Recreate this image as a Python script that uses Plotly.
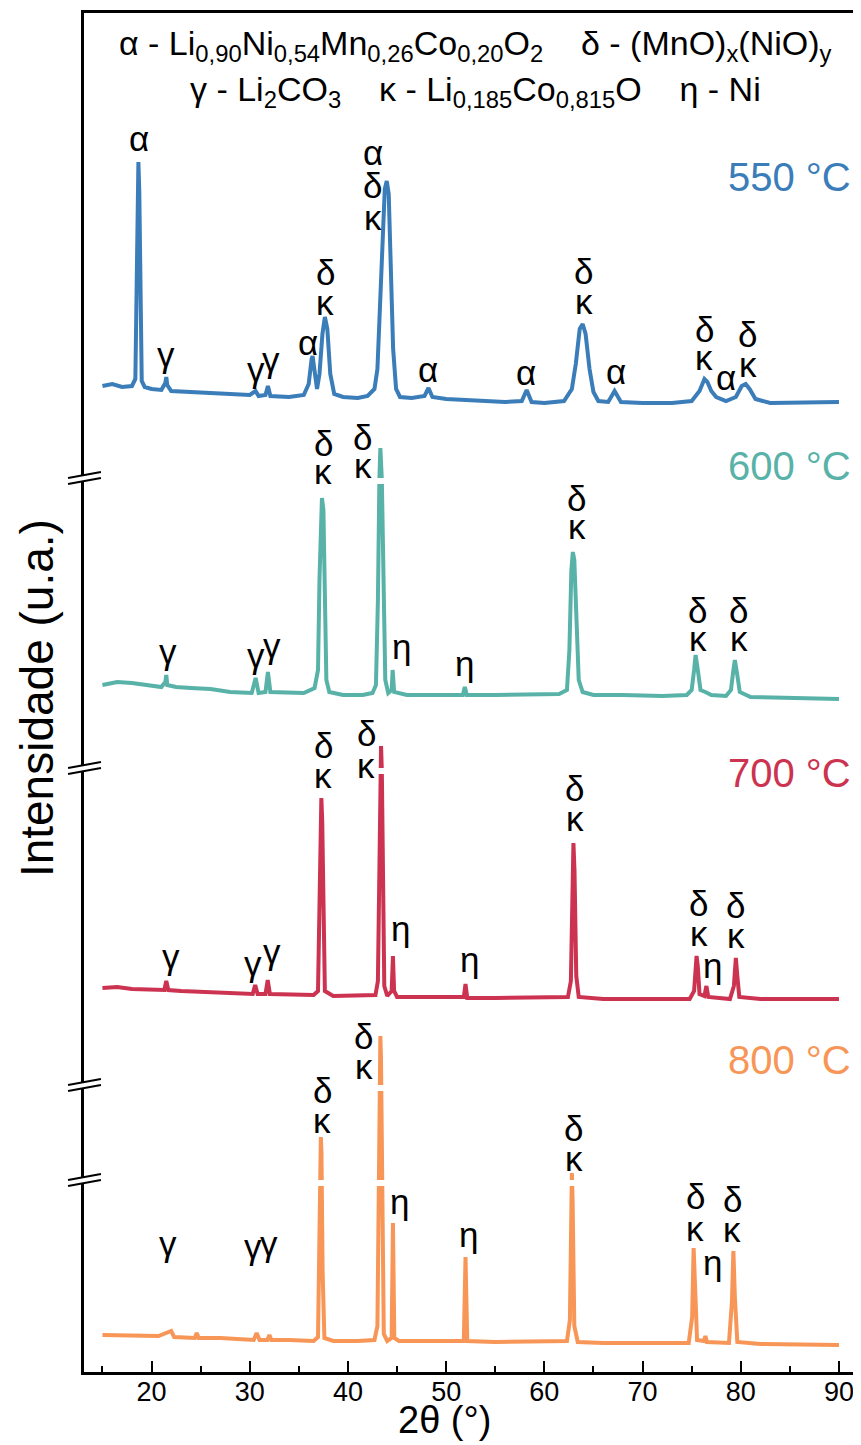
import plotly.graph_objects as go

# ---------------- data (2θ in degrees, intensity in arbitrary stacked units) ----------------
two_theta_550 = [15.0, 16.0, 17.0, 18.0, 18.35, 18.5, 18.6, 18.66, 18.75, 18.85, 19.0, 19.3, 20.0, 21.0, 21.4, 21.5, 21.6, 22.0,
                 24.0, 26.0, 28.0, 30.0, 30.6, 30.9, 31.6, 31.85, 32.1, 34.0, 35.5, 36.0, 36.3, 36.4, 36.6, 36.85, 37.1,
                 37.4, 37.65, 37.9, 38.2, 38.6, 39.5, 41.0, 42.0, 42.7, 43.0, 43.3, 43.5, 43.75, 43.95, 44.15, 44.35,
                 44.6, 44.9, 45.3, 46.5, 47.8, 48.2, 48.6, 50.0, 52.0, 54.0, 56.0, 57.7, 58.2, 58.7, 60.0, 62.0, 62.8,
                 63.2, 63.6, 63.9, 64.2, 64.6, 65.0, 65.5, 66.5, 67.15, 67.8, 70.0, 73.0, 75.0, 75.8, 76.3, 76.6, 77.0,
                 77.5, 78.5, 79.5, 80.1, 80.5, 80.9, 81.5, 83.0, 86.0, 88.0, 90.0]
intensity_550 = [986, 988, 985, 986, 993, 1090, 1195, 1210, 1180, 1060, 991, 985, 983, 982, 989, 995, 987, 981,
                 980, 979, 978, 977, 981, 976, 977, 986, 976, 975, 977, 988, 1013, 1016, 1001, 983, 998,
                 1038, 1055, 1043, 998, 978, 975, 974, 976, 983, 1003, 1063, 1123, 1183, 1191, 1178, 1113,
                 1023, 983, 975, 974, 976, 984, 975, 973, 972, 971, 970, 971, 982, 970, 969, 971, 983,
                 1008, 1043, 1048, 1038, 1003, 980, 971, 970, 981, 970, 969, 969, 971, 981, 993, 990, 981,
                 975, 971, 975, 986, 988, 983, 973, 969, 969, 970, 970]

two_theta_600 = [15.0, 16.5, 18.0, 19.5, 21.0, 21.4, 21.5, 21.6, 22.5, 24.0, 26.0, 28.0, 30.2, 30.6, 30.9, 31.6, 31.85,
                 32.1, 34.0, 35.5, 36.6, 36.95, 37.1, 37.25, 37.35, 37.5, 37.65, 37.8, 38.1, 39.5, 41.5, 42.5, 42.85,
                 43.05, 43.2, 43.3, 43.45, 43.6, 43.8, 44.1, 44.45, 44.55, 44.7, 46.0, 48.0, 51.7, 51.9, 52.1, 55.0,
                 58.0, 61.5, 62.3, 62.55, 62.75, 62.9, 63.05, 63.25, 63.5, 63.9, 65.0, 68.0, 72.0, 74.5, 75.0, 75.25,
                 75.4, 75.6, 75.9, 76.4, 77.0, 78.5, 79.0, 79.25, 79.4, 79.6, 79.9, 81.0, 84.0, 87.0, 90.0]
intensity_600 = [687, 690, 689, 687, 685, 690, 697, 687, 685, 684, 683, 680, 679, 694, 679, 680, 700,
                 680, 679, 679, 684, 702, 792, 867, 874, 862, 772, 692, 680, 677, 677, 679, 687,
                 772, 892, 924, 892, 772, 692, 679, 682, 702, 680, 677, 677, 677, 685, 677, 677,
                 677, 678, 682, 722, 802, 820, 812, 752, 692, 680, 677, 677, 676, 677, 682, 702,
                 717, 704, 682, 680, 677, 676, 682, 702, 712, 700, 680, 675, 674, 674, 673]

two_theta_700 = [15.0, 16.5, 18.0, 20.0, 21.3, 21.5, 21.7, 23.0, 25.0, 27.0, 30.3, 30.55, 30.8, 31.6, 31.83, 32.05,
                 34.0, 36.5, 36.95, 37.1, 37.2, 37.29, 37.38, 37.5, 37.65, 38.5, 41.0, 42.8, 43.05, 43.2, 43.3,
                 43.37, 43.45, 43.55, 43.7, 44.0, 44.45, 44.58, 44.7, 45.0, 48.0, 51.8, 51.97, 52.15, 55.0, 58.0,
                 62.4, 62.7, 62.85, 62.96, 63.07, 63.25, 63.5, 66.0, 70.0, 74.8, 75.25, 75.4, 75.5, 75.62, 75.8,
                 76.3, 76.5, 76.7, 78.9, 79.3, 79.5, 79.65, 79.85, 82.0, 86.0, 90.0]
intensity_700 = [384, 385, 383, 383, 382, 391, 382, 381, 380, 379, 378, 387, 378, 378, 392, 378,
                 378, 377, 381, 471, 561, 574, 551, 431, 381, 376, 376, 377, 391, 521, 611,
                 626, 601, 471, 386, 376, 381, 416, 381, 375, 375, 375, 388, 374, 374, 374,
                 375, 391, 501, 529, 501, 396, 375, 373, 373, 373, 381, 411, 416, 406, 378,
                 376, 386, 375, 373, 386, 414, 396, 375, 373, 373, 373]

two_theta_800 = [15.0, 17.0, 19.0, 20.7, 22.0, 22.3, 24.4, 24.6, 24.8, 27.0, 30.4, 30.7, 31.0, 31.8, 32.0, 32.2,
                 34.0, 36.5, 36.95, 37.08, 37.18, 37.24, 37.3, 37.42, 37.6, 38.5, 41.0, 42.7, 43.0, 43.15, 43.25,
                 43.3, 43.36, 43.48, 43.65, 44.0, 44.45, 44.58, 44.72, 45.2, 48.0, 51.8, 51.97, 52.15, 55.0, 58.0,
                 62.3, 62.6, 62.72, 62.8, 62.88, 63.05, 63.4, 66.0, 70.0, 74.7, 75.05, 75.2, 75.33, 75.55, 76.25,
                 76.4, 76.55, 78.8, 79.1, 79.25, 79.4, 79.65, 82.0, 86.0, 90.0]
intensity_800 = [37, 37, 36, 36, 41, 35, 34, 39, 34, 34, 32, 39, 32, 32, 37, 32,
                 32, 31, 35, 150, 222, 235, 220, 100, 34, 31, 31, 32, 46, 200, 315,
                 336, 315, 150, 38, 31, 34, 149, 34, 31, 31, 31, 115, 31, 30, 30,
                 31, 52, 170, 199, 170, 46, 30, 29, 29, 29, 55, 124, 90, 32, 31,
                 36, 30, 29, 70, 121, 75, 30, 28, 28, 27]

temperatures = ["550 °C", "600 °C", "700 °C", "800 °C"]
colors = ["#3B7DB9", "#58B2A8", "#CC3350", "#F79656"]
series_x = [two_theta_550, two_theta_600, two_theta_700, two_theta_800]
series_y = [intensity_550, intensity_600, intensity_700, intensity_800]

# phase labels: (text, 2θ, height)
phase_labels = [
    # 550
    ("α", 18.7, 1234), ("γ", 21.5, 1018), ("γ", 30.6, 1003), ("γ", 32.2, 1013), ("α", 35.9, 1030),
    ("δ", 37.7, 1100), ("κ", 37.7, 1070), ("α", 42.5, 1220), ("δ", 42.5, 1187), ("κ", 42.5, 1155),
    ("α", 48.2, 1003), ("α", 58.1, 1000), ("δ", 64.0, 1101), ("κ", 64.0, 1071), ("α", 67.3, 1001),
    ("δ", 76.3, 1043), ("κ", 76.3, 1015), ("α", 78.5, 995), ("δ", 80.7, 1038), ("κ", 80.7, 1008),
    # 600
    ("γ", 21.7, 721), ("γ", 30.6, 717), ("γ", 32.3, 727), ("δ", 37.5, 929), ("κ", 37.5, 901),
    ("δ", 41.5, 935), ("κ", 41.5, 907), ("η", 45.5, 726), ("η", 51.9, 709), ("δ", 63.3, 874),
    ("κ", 63.3, 846), ("δ", 75.6, 762), ("κ", 75.6, 734), ("δ", 79.8, 762), ("κ", 79.8, 734),
    # 700
    ("γ", 22.0, 416), ("γ", 30.3, 409), ("γ", 32.3, 421), ("δ", 37.5, 627), ("κ", 37.5, 597),
    ("δ", 41.85, 639), ("κ", 41.85, 607), ("η", 45.3, 444), ("η", 52.4, 413), ("δ", 63.1, 584),
    ("κ", 63.1, 554), ("δ", 75.7, 469), ("κ", 75.7, 439), ("η", 77.1, 407), ("δ", 79.5, 467),
    ("κ", 79.5, 437),
    # 800
    ("γ", 21.7, 129), ("γ", 30.3, 126), ("γ", 31.95, 129), ("δ", 37.4, 282), ("κ", 37.4, 252),
    ("δ", 41.6, 336), ("κ", 41.6, 306), ("η", 45.2, 171), ("η", 52.3, 138), ("δ", 63.0, 244),
    ("κ", 63.0, 214), ("δ", 75.35, 176), ("κ", 75.35, 144), ("η", 77.1, 110), ("δ", 79.15, 173),
    ("κ", 79.15, 143),
]
temp_label_heights = [1195, 906, 599, 312]
axis_breaks = [891, 601, 284, 189]

legend_line1 = ("α - Li<sub>0,90</sub>Ni<sub>0,54</sub>Mn<sub>0,26</sub>Co<sub>0,20</sub>O<sub>2</sub>"
                "\u00a0\u00a0\u00a0\u00a0δ - (MnO)<sub>x</sub>(NiO)<sub>y</sub>")
legend_line2 = ("γ - Li<sub>2</sub>CO<sub>3</sub>\u00a0\u00a0\u00a0\u00a0κ - Li<sub>0,185</sub>Co<sub>0,815</sub>O"
                "\u00a0\u00a0\u00a0\u00a0η - Ni")

# ---------------- figure ----------------
FONT = "Arial, 'Liberation Sans', sans-serif"
W, H = 861, 1445
ML, MR, MT, MB = 76, 2, 5, 81
PW = W - ML - MR
PH = H - MT - MB

fig = go.Figure()
for xs, ys, c, name in zip(series_x, series_y, colors, temperatures):
    fig.add_trace(go.Scatter(x=xs, y=ys, mode="lines", name=name,
                             line=dict(color=c, width=4), hoverinfo="skip"))

ann = []
for txt, xv, yv in phase_labels:
    ann.append(dict(x=xv, y=yv, xref="x", yref="y", text=txt, showarrow=False,
                    font=dict(family=FONT, size=35, color="black"),
                    xanchor="center", yanchor="middle"))
for t, c, yv in zip(temperatures, colors, temp_label_heights):
    ann.append(dict(x=(848 - ML) / PW, y=yv, xref="paper", yref="y", text=t, showarrow=False,
                    font=dict(family=FONT, size=40, color=c), xanchor="right", yanchor="middle"))
ann.append(dict(x=(469 - ML) / PW, y=1327, xref="paper", yref="y", text=legend_line1, showarrow=False,
                font=dict(family=FONT, size=34, color="black"), xanchor="center", yanchor="middle"))
ann.append(dict(x=(469 - ML) / PW, y=1281, xref="paper", yref="y", text=legend_line2, showarrow=False,
                font=dict(family=FONT, size=34, color="black"), xanchor="center", yanchor="middle"))
ann.append(dict(x=(29 - ML) / PW, y=0.496, xref="paper", yref="paper", text="Intensidade (u.a.)",
                showarrow=False, textangle=-90, font=dict(family=FONT, size=46, color="black"),
                xanchor="center", yanchor="middle"))
ann.append(dict(x=(438 - ML) / PW, y=-(1412 - (H - MB)) / PH, xref="paper", yref="paper", text="2θ (°)",
                showarrow=False, font=dict(family=FONT, size=38, color="black"),
                xanchor="center", yanchor="middle"))

shapes = []
def px(xpix):
    return (xpix - ML) / PW
for b in axis_breaks:
    # gap in the traces at the break level
    shapes.append(dict(type="rect", xref="paper", yref="y", x0=px(79), x1=px(856), y0=b - 3, y1=b + 3,
                       fillcolor="white", line=dict(width=0), layer="above"))
    # break mark on the y axis
    path = f"M {px(60)},{b + 3} L {px(93)},{b + 9} L {px(93)},{b + 3} L {px(60)},{b - 3} Z"
    shapes.append(dict(type="path", xref="paper", yref="y", path=path, fillcolor="white",
                       line=dict(width=0), layer="above"))
    shapes.append(dict(type="line", xref="paper", yref="y", x0=px(60), x1=px(93), y0=b + 3, y1=b + 9,
                       line=dict(color="black", width=2), layer="above"))
    shapes.append(dict(type="line", xref="paper", yref="y", x0=px(60), x1=px(93), y0=b - 3, y1=b + 3,
                       line=dict(color="black", width=2), layer="above"))

fig.update_layout(
    width=W, height=H, margin=dict(l=ML, r=MR, t=MT, b=MB),
    paper_bgcolor="white", plot_bgcolor="white", showlegend=False,
    annotations=ann, shapes=shapes,
    font=dict(family=FONT, color="black"),
)
fig.update_xaxes(range=[13.12, 92.55], showline=True, linecolor="black", linewidth=2.5, mirror=True,
                 ticks="inside", ticklen=11, tickwidth=2, tickcolor="black",
                 tick0=0, dtick=10, showgrid=False, zeroline=False, ticklabelstandoff=-6,
                 tickfont=dict(family=FONT, size=27, color="black"),
                 minor=dict(ticks="inside", ticklen=6, tickwidth=2, tickcolor="black", dtick=5, tick0=0,
                            showgrid=False))
fig.update_yaxes(range=[0, PH], showline=True, linecolor="black", linewidth=2.5, mirror=True,
                 showticklabels=False, ticks="", showgrid=False, zeroline=False)

fig.write_html("out.html")
